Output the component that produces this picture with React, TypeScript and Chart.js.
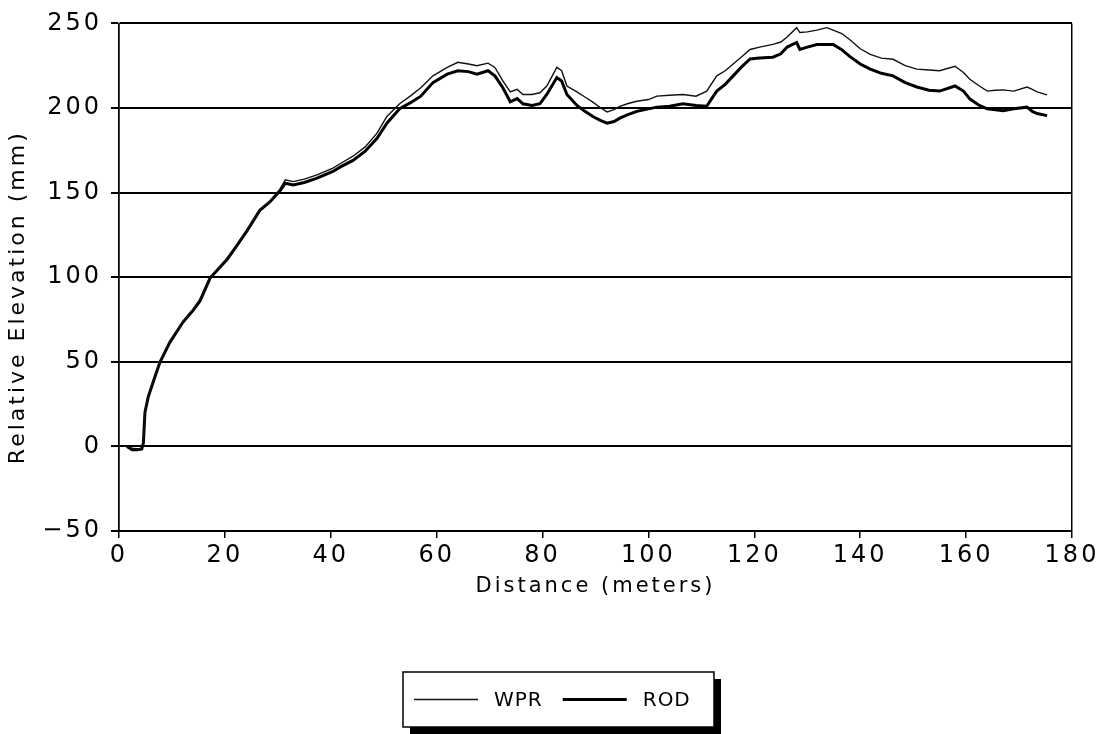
import React, { useEffect, useRef } from "react";
import { Chart, registerables } from "chart.js";

Chart.register(...registerables);

const distance = [
  1.5, 2.5, 3.5, 4.3, 4.6, 4.9, 5.5, 6.5, 7.7, 9.6, 12.1, 14, 15.3, 17.2, 20.4, 22, 24.2, 26.6, 28.5, 30.4,
  31.4, 32.9, 35, 37.4, 40.4, 42, 44.2, 46.5, 48.7, 50.6, 53, 55, 57, 59.3, 62, 64, 66, 67.6, 69.7, 71,
  72.5, 73.9, 75.2, 76.3, 78, 79.5, 80.8, 82.7, 83.6, 84.6, 86.5, 88, 89.5, 91, 92.2, 93.5, 94.6, 96, 97.8, 100,
  101.6, 104, 106.5, 109, 111, 112.9, 114.5, 116, 117.5, 119.2, 121, 123.5, 125, 126.2, 128, 128.6, 130, 131.8, 133.7, 134.9,
  136.5, 138, 140, 141.9, 144, 146.2, 148.5, 150.7, 153, 155, 157.9, 159.5, 160.7, 162.5, 164, 165.5, 167, 169, 171.5, 172.5,
  173.4, 175.3,
];

const wpr = [
  0, -1, -1.5, -1, 3, 21, 30, 39, 50, 62, 74, 81, 87, 100, 111, 118, 128, 140, 145, 152,
  157.5, 156.5, 158, 160.5, 164.5, 167.5, 171.5, 177, 185, 195, 202.5, 207, 212, 219, 224, 227, 226, 225, 226.5, 224,
  216, 209.5, 211, 208, 208, 209, 213, 224, 222, 213, 209.5, 206.5, 203.5, 200, 197.7, 199, 201, 202.5, 204, 205,
  207, 207.5, 208, 207, 210, 219, 222, 226, 230, 234.6, 236, 237.6, 239, 242, 247.5, 244.6, 245, 246, 247.5, 246,
  244, 240.5, 235, 231.7, 229.5, 228.8, 225, 223, 222.5, 222, 224.7, 221, 217, 213, 210, 210.5, 210.7, 210, 212.4, 211,
  209.5, 207.8,
];

const rod = [
  0, -2, -2, -1.5, 2, 20, 29, 38.5, 49.5, 61.5, 73.5, 80.5, 86, 99.5, 110.5, 117.5, 127.5, 139.5, 144.5, 151,
  155.5, 154.5, 156, 158.5, 162.5, 165.5, 169, 174.5, 182, 191, 199.6, 203, 207, 215, 220, 222, 221.5, 220, 222, 219,
  212, 203.7, 205.6, 202.5, 201.5, 202.5, 208, 218, 216, 208, 201.5, 198, 195, 192.5, 191, 192, 194, 196, 198, 199.5,
  200.5, 201, 202.5, 201.5, 201, 210, 214, 219, 224, 229, 229.5, 230, 232, 236, 238.7, 234.6, 236, 237.5, 237.5, 237.5,
  234.5, 230.5, 226, 223, 220.5, 219, 215, 212.4, 210.5, 210, 213, 210, 205.4, 201.5, 199.5, 199, 198.4, 199.5, 200.5, 198,
  196.7, 195.5,
];

const seriesNames = ["WPR", "ROD"];
const xTitle = "Distance (meters)";
const yTitle = "Relative Elevation (mm)";

const FONT = "'DejaVu Sans', sans-serif";
const SPACING = "3px";

const spacingPlugin = {
  id: "spacing",
  beforeUpdate(chart: any) {
    (chart.ctx as any).letterSpacing = SPACING;
  },
  beforeLayout(chart: any) {
    (chart.ctx as any).letterSpacing = SPACING;
  },
  beforeDraw(chart: any) {
    (chart.ctx as any).letterSpacing = SPACING;
  },
};

const yTitlePlugin = {
  id: "yTitle",
  afterDraw(chart: any) {
    const ctx = chart.ctx as CanvasRenderingContext2D;
    const area = chart.chartArea;
    ctx.save();
    (ctx as any).letterSpacing = "3px";
    ctx.font = `22px ${FONT}`;
    ctx.fillStyle = "#000";
    ctx.textAlign = "center";
    ctx.textBaseline = "middle";
    ctx.translate(18, (area.top + area.bottom) / 2 + 20);
    ctx.rotate(-Math.PI / 2);
    ctx.fillText(yTitle, 0, 0);
    ctx.restore();
  },
};

const boxedLegend = {
  id: "boxedLegend",
  afterDraw(chart: any) {
    const ctx = chart.ctx as CanvasRenderingContext2D;
    const area = chart.chartArea;
    const boxW = 311;
    const boxH = 55;
    const left = Math.round(chart.width / 2 - boxW / 2 + 5);
    const top = area.bottom + 141;
    ctx.save();
    (ctx as any).letterSpacing = "1px";
    ctx.fillStyle = "#000";
    ctx.fillRect(left + 7, top + 7, boxW, boxH);
    ctx.fillStyle = "#fff";
    ctx.fillRect(left, top, boxW, boxH);
    ctx.strokeStyle = "#000";
    ctx.lineWidth = 1.5;
    ctx.strokeRect(left, top, boxW, boxH);
    ctx.font = `20px ${FONT}`;
    ctx.textBaseline = "middle";
    ctx.textAlign = "left";
    const cy = top + boxH / 2;
    let x = left + 11;
    chart.data.datasets.forEach((ds: any) => {
      ctx.beginPath();
      ctx.lineWidth = ds.borderWidth;
      ctx.strokeStyle = ds.borderColor;
      ctx.moveTo(x, cy);
      ctx.lineTo(x + 64, cy);
      ctx.stroke();
      x += 64 + 16;
      ctx.fillStyle = "#000";
      ctx.fillText(ds.label, x, cy + 1);
      x += ctx.measureText(ds.label).width + 20;
    });
    ctx.restore();
  },
};

const fmt = (v: any) => String(v).replace("-", "\u2212");

export default function App() {
  const canvasRef = useRef<HTMLCanvasElement | null>(null);

  useEffect(() => {
    const canvas = canvasRef.current;
    if (!canvas) return;
    const toPoints = (vals: number[]) => vals.map((v, i) => ({ x: distance[i], y: v }));
    const chart = new Chart(canvas, {
      type: "line",
      data: {
        datasets: [
          {
            label: seriesNames[0],
            data: toPoints(wpr),
            borderColor: "#111",
            borderWidth: 1.4,
            pointRadius: 0,
            tension: 0,
            fill: false,
          },
          {
            label: seriesNames[1],
            data: toPoints(rod),
            borderColor: "#000",
            borderWidth: 3,
            pointRadius: 0,
            tension: 0,
            fill: false,
          },
        ],
      },
      plugins: [spacingPlugin, yTitlePlugin, boxedLegend],
      options: {
        animation: false,
        responsive: true,
        maintainAspectRatio: false,
        layout: { padding: { top: 18, right: 34, left: 0, bottom: 131 } },
        plugins: {
          legend: { display: false },
          tooltip: { enabled: false },
        },
        scales: {
          x: {
            type: "linear",
            min: 0,
            max: 180,
            afterFit: (scale: any) => {
              scale.height = 72;
            },
            ticks: {
              stepSize: 20,
              color: "#000",
              padding: 3,
              maxRotation: 0,
              font: { family: FONT, size: 24 },
              callback: (v: any) => fmt(v),
            },
            grid: {
              color: (ctx: any) =>
                ctx.tick && (ctx.tick.value === 0 || ctx.tick.value === 180) ? "#000" : "rgba(0,0,0,0)",
              tickColor: "#000",
              lineWidth: 1.5,
              tickLength: 7,
            },
            border: { display: true, color: "#000", width: 2 },
            title: {
              display: true,
              text: xTitle,
              color: "#000",
              font: { family: FONT, size: 21 },
              padding: { top: 4, bottom: 4 },
            },
          },
          y: {
            type: "linear",
            min: -50,
            max: 250,
            afterFit: (scale: any) => {
              scale.width = 119;
            },
            ticks: {
              stepSize: 50,
              color: "#000",
              padding: 9,
              font: { family: FONT, size: 24 },
              callback: (v: any) => fmt(v),
            },
            grid: {
              color: "#000",
              lineWidth: 2,
              tickLength: 8,
            },
            border: { display: true, color: "#000", width: 1.5 },
            title: { display: false },
          },
        },
      },
    } as any);
    return () => chart.destroy();
  }, []);

  return (
    <div style={{ position: "fixed", left: 0, top: 0, width: 1106, height: 734, background: "#fff" }}>
      <canvas ref={canvasRef} />
    </div>
  );
}
